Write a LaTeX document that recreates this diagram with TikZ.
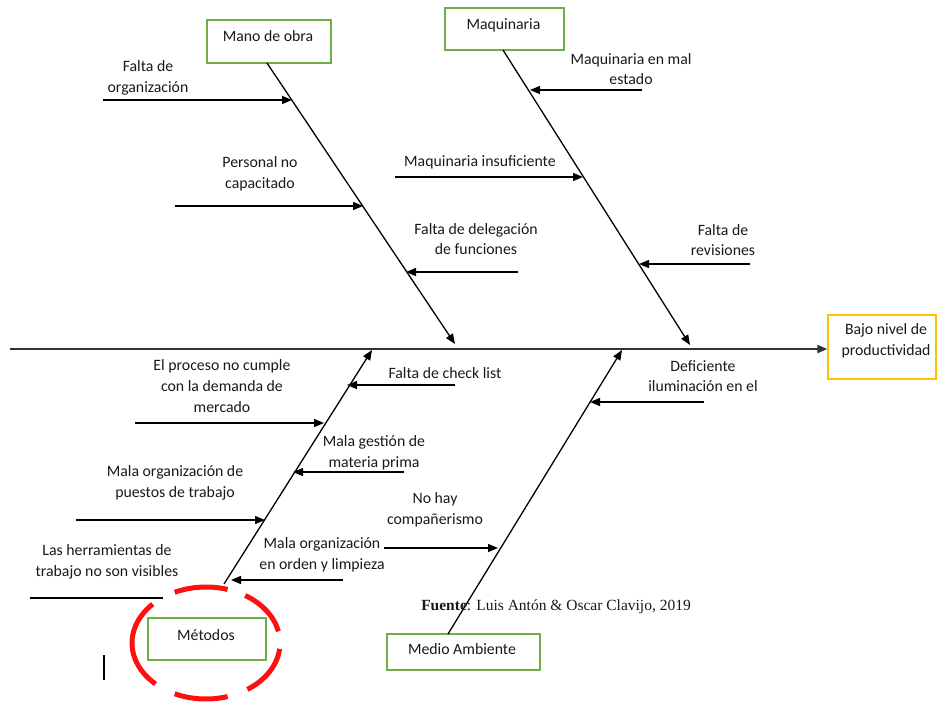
\documentclass[tikz,border=0pt]{standalone}
\usepackage{fontspec}
\setmainfont{Carlito}
\newfontfamily\sourcefont{Liberation Serif}
\usetikzlibrary{arrows.meta}

\definecolor{boxgreen}{HTML}{70AD47}
\definecolor{boxgold}{HTML}{FFC000}
\definecolor{ringred}{HTML}{FF1010}
\definecolor{spinegray}{HTML}{333333}

\begin{document}
\begin{tikzpicture}[x=1pt,y=-1pt,
  tip/.style={-{Triangle[length=10pt,width=8pt]}},
  spine/.style={draw=spinegray,line width=2.2pt,tip},
  bone/.style={draw=black,line width=1.3pt},
  cause/.style={draw=black,line width=1.4pt,tip},
  plain/.style={draw=black,line width=1.4pt},
  catbox/.style={draw=boxgreen,line width=1.3pt,inner sep=0pt},
  effbox/.style={draw=boxgold,line width=1.3pt,inner sep=0pt},
  lbl/.style={font=\fontsize{15.8}{20.7}\selectfont,align=center,inner sep=0pt,text=black!90},
  ring/.style={draw=ringred,line width=5pt}
]
\useasboundingbox (0,0) rectangle (937,702);

% ---- effect box and main spine ----
\node[effbox,minimum width=108pt,minimum height=64pt] (effect) at (882,347) {};
\node[lbl] (effecttext) at (886,341) {Bajo nivel de\\productividad};
\coordinate (tail) at (10,349);
\draw[spine] (tail) -- (effect.west |- tail);

% ---- category boxes ----
\node[catbox,minimum width=124pt,minimum height=43pt] (mano) at (269,41.5) {};
\node[lbl] (manotext) at (268,36) {Mano de obra};
\node[catbox,minimum width=119pt,minimum height=42pt] (maq) at (504.5,29) {};
\node[lbl] (maqtext) at (503.5,25) {Maquinaria};
\node[catbox,minimum width=118pt,minimum height=42pt] (met) at (207,639) {};
\node[lbl] (mettext) at (206,635) {Métodos};
\node[catbox,minimum width=153pt,minimum height=36pt] (medio) at (463.5,652) {};
\node[lbl] (mediotext) at (462,649) {Medio Ambiente};

% ---- main bones ----
\coordinate (manoS) at (267,63);
\coordinate (manoE) at (455,344);
\coordinate (maqS) at (503,50);
\coordinate (maqE) at (690,345);
\coordinate (metS) at (224,584);
\coordinate (metE) at (372,350);
\coordinate (medS) at (448,634);
\coordinate (medE) at (622,350);
\draw[bone,tip] (manoS) -- (manoE);
\draw[bone,tip] (maqS) -- (maqE);
\draw[bone,tip] (metS) -- (metE);
\draw[bone,tip] (medS) -- (medE);

% ---- causes: Mano de obra ----
\coordinate (c1a) at (103,100);  \coordinate (c1b) at (292,100);
\draw[cause] (c1a) -- (c1b);
\node[lbl] (t1) at (148,78) {Falta de\\organización};
\coordinate (c2a) at (175,206);  \coordinate (c2b) at (363,206);
\draw[cause] (c2a) -- (c2b);
\node[lbl] (t2) at (260,174) {Personal no\\capacitado};
\coordinate (c3a) at (518,272);  \coordinate (c3b) at (406,272);
\draw[cause] (c3a) -- (c3b);
\node[lbl] (t3) at (476,239) {Falta de delegación\\de funciones};

% ---- causes: Maquinaria ----
\coordinate (c4a) at (642,90);   \coordinate (c4b) at (530,90);
\draw[cause] (c4a) -- (c4b);
\node[lbl] (t4) at (631,69) {Maquinaria en mal\\estado};
\coordinate (c5a) at (395,177);  \coordinate (c5b) at (583,177);
\draw[cause] (c5a) -- (c5b);
\node[lbl] (t5) at (480,162) {Maquinaria insuficiente};
\coordinate (c6a) at (750,264);  \coordinate (c6b) at (639,264);
\draw[cause] (c6a) -- (c6b);
\node[lbl] (t6) at (723,240) {Falta de\\revisiones};

% ---- causes: Medio Ambiente ----
\coordinate (c7a) at (704,402);  \coordinate (c7b) at (590,402);
\draw[cause] (c7a) -- (c7b);
\node[lbl] (t7) at (703,376) {Deficiente\\iluminación en el};
\coordinate (c8a) at (384,548);  \coordinate (c8b) at (498,548);
\draw[cause] (c8a) -- (c8b);
\node[lbl] (t8) at (435,510) {No hay\\compañerismo};

% ---- causes: Métodos ----
\coordinate (c9a) at (455,385);  \coordinate (c9b) at (347,385);
\draw[cause] (c9a) -- (c9b);
\node[lbl] (t9) at (445,373) {Falta de check list};
\coordinate (c10a) at (135,423); \coordinate (c10b) at (324,423);
\draw[cause] (c10a) -- (c10b);
\node[lbl] (t10) at (222,386) {El proceso no cumple\\con la demanda de\\mercado};
\coordinate (c11a) at (404,472); \coordinate (c11b) at (293,472);
\draw[cause] (c11a) -- (c11b);
\node[lbl] (t11) at (374,453) {Mala gestión de\\materia prima};
\coordinate (c12a) at (76,520);  \coordinate (c12b) at (265,520);
\draw[cause] (c12a) -- (c12b);
\node[lbl] (t12) at (175,483) {Mala organización de\\puestos de trabajo};
\coordinate (c13a) at (343,580); \coordinate (c13b) at (231,580);
\draw[cause] (c13a) -- (c13b);
\node[lbl] (t13) at (322,555) {Mala organización\\en orden y limpieza};
\coordinate (c14a) at (30,598);  \coordinate (c14b) at (163,598);
\draw[plain] (c14a) -- (c14b);
\node[lbl] (t14) at (107,562) {Las herramientas de\\trabajo no son visibles};

% ---- dashed ring around Métodos ----
\coordinate (ringc) at (206,643);
\foreach \a/\b in {245/287,136/227,73/115,12/58,304/354}
  \draw[ring] (ringc) ++(\a:74pt and 56pt)
    arc[start angle=\a,end angle=\b,x radius=74pt,y radius=56pt];

% ---- text cursor mark ----
\coordinate (curA) at (104,655); \coordinate (curB) at (104,680);
\draw[line width=1.3pt] (curA) -- (curB);

% ---- source line ----
\node[inner sep=0pt,font=\sourcefont\fontsize{15.5}{18}\selectfont,text=black!90] (src) at (556,607)
  {\textbf{Fuente}: Luis Antón \& Oscar Clavijo, 2019};
\end{tikzpicture}
\end{document}
